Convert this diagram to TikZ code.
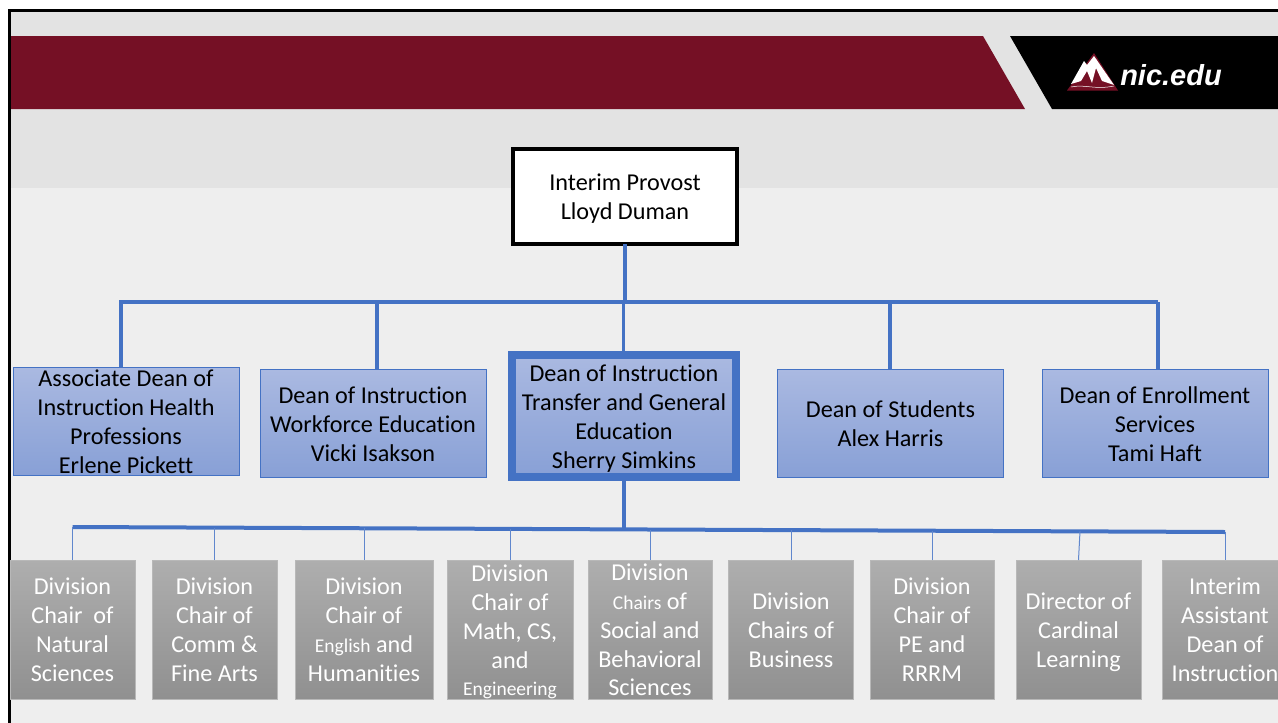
\documentclass[tikz,border=0pt]{standalone}
\usepackage{fontspec}
\setmainfont[Ligatures=CommonOff]{Carlito}
\newfontfamily\logofont{Liberation Sans}
\usepackage{tikz}
\usetikzlibrary{positioning}
\definecolor{maroon} {RGB}{117, 16, 37}
\definecolor{band}   {RGB}{227,227,227}
\definecolor{page}   {RGB}{238,238,238}
\definecolor{tree}   {RGB}{ 68,114,196}
\definecolor{deantop}{RGB}{170,185,225}
\definecolor{deanbot}{RGB}{136,160,214}
\definecolor{chairtop}{RGB}{174,174,174}
\definecolor{chairbot}{RGB}{144,144,144}
\newcommand{\smalltext}[1]{{\fontsize{19.5}{29}\selectfont #1}}
\newcommand{\ts}{\rule{0pt}{23.5pt}}
\newcommand{\botstrut}{\rule[-6pt]{0pt}{6pt}}
\tikzset{
  every node/.style={shape=rectangle,inner sep=0pt,outer sep=0pt,align=center,
    font=\fontsize{24.2}{29}\selectfont},
  boxtext/.style={inner ysep=-20pt,execute at end node=\botstrut},
  dean/.style={boxtext,draw=tree,line width=1pt,top color=deantop,bottom color=deanbot,
    minimum width=226,minimum height=108},
  chair/.style={boxtext,draw=black!28,line width=1pt,top color=chairtop,bottom color=chairbot,
    text=white,minimum height=139},
  trunk/.style={draw=tree,line width=4pt},
  drop/.style={draw=tree!85,line width=1pt}
}

\begin{document}
\begin{tikzpicture}[x=1pt,y=-1pt]

    \useasboundingbox (0,0) rectangle (1278,723);

    % backdrop and title bands
    \fill[page] (8,10) rectangle (1278,723);
    \fill[band] (8,10) rectangle (1278,188);
    \fill[maroon] (10,36) -- (983,36) -- (1025,109) -- (10,109) -- cycle;
    \fill[black] (1010,36) -- (1278,36) -- (1278,109) -- (1052,109) -- cycle;
    \draw[black,line width=3pt] (9,723) -- (9,10.5) -- (1278,10.5);

    % logo
    \fill[maroon] (1067,90.5) -- (1094,53) -- (1118,90.5) -- cycle;
    \fill[white] (1071,84) -- (1084,61) -- (1087,65) -- (1094,56) -- (1114,85) -- (1102,81)
        -- (1096,68) -- (1092,83) -- (1087,71) -- (1081,81) -- cycle;
    \draw[white,line width=0.5pt] (1071,87) .. controls (1085,84) and (1095,90) .. (1114,86);
    \node[text=white,font=\logofont\bfseries\itshape\fontsize{29}{29}\selectfont] (logo) at(1171,75) {nic.edu};

    % provost and deans
    \node[boxtext,draw=black,fill=white,line width=3.5pt,minimum width=224,minimum height=95] (provost) at(625,196.5) {\ts Interim Provost\\Lloyd Duman};

    \node[dean] (associate) at(126,421) {\ts Associate Dean of\\Instruction Health\\Professions\\Erlene Pickett};
    \node[dean] (workforce) at(373,423.5) {\ts Dean of Instruction\\Workforce Education\\Vicki Isakson};
    \node[dean,line width=8pt,minimum width=224,minimum height=122] (transfer) at(624,416) {\ts Dean of Instruction\\Transfer and General\\Education\\Sherry Simkins};
    \node[dean] (students) at(890.5,423.5) {\ts Dean of Students\\Alex Harris};
    \node[dean] (enrollment) at(1155,423.5) {\ts Dean of Enrollment\\Services\\Tami Haft};

    % chairs
    \node[chair,minimum width=125] (natural) at(72.5,629.5) {\ts Division\\Chair\ \ of\\Natural\\Sciences};
    \node[chair,minimum width=125] (finearts) at(214.5,629.5) {\ts Division\\Chair of\\Comm \&\\Fine Arts};
    \node[chair,minimum width=138] (english) at(364,629.5) {\ts Division\\Chair of\\\smalltext{English} and\\Humanities};
    \node[chair,minimum width=126] (math) at(510,629.5) {\ts Division\\Chair of\\Math, CS,\\and\\[-2pt]\smalltext{Engineering}};
    \node[chair,minimum width=124] (social) at(650,629.5) {\ts Division\\\smalltext{Chairs} of\\Social and\\Behavioral\\[-1pt]Sciences};
    \node[chair,minimum width=125] (business) at(791,629.5) {\ts Division\\Chairs of\\Business};
    \node[chair,minimum width=124] (perrrm) at(932,629.5) {\ts Division\\Chair of\\PE and\\RRRM};
    \node[chair,minimum width=125] (cardinal) at(1078.5,629.5) {\ts Director of\\Cardinal\\Learning};
    \node[chair,minimum width=126] (assistant) at(1225,629.5) {\ts Interim\\Assistant\\Dean of\\Instruction};

    % upper tree
    \coordinate (ua) at(121,302);
    \coordinate (ub) at(377,302);
    \coordinate (uc) at(623.5,302);
    \coordinate (ud) at(890,302);
    \coordinate (ue) at(1158,302);
    \draw[trunk] (ua) -- (ue);
    \draw[trunk] (provost) -- (provost |- ua);
    \draw[trunk] ([xshift=-2pt]ua) -- (ua) -- (ua |- associate.north);
    \draw[trunk] (ub) -- (ub |- workforce.north);
    \draw[trunk,line width=3pt] (uc) -- (uc |- transfer.north);
    \draw[trunk] (ud) -- (ud |- students.north);
    \draw[trunk] (ue) -- (ue |- enrollment.north);

    % lower tree
    \coordinate (la) at(72.5,527);
    \coordinate (lb) at(214.5,527.6);
    \coordinate (lc) at(364,528.3);
    \coordinate (ld) at(510,528.9);
    \coordinate (lm) at(623,529.4);
    \coordinate (le) at(650,529.5);
    \coordinate (lf) at(791,530.1);
    \coordinate (lg) at(932,530.7);
    \coordinate (lh) at(1080,531.4);
    \coordinate (li) at(1225,532);
    \draw[trunk] (la) -- (li);
    \draw[trunk] (transfer) -- (transfer |- lm);
    \draw[drop] (natural) -- (la);
    \draw[drop] (finearts) -- (lb);
    \draw[drop] (english) -- (lc);
    \draw[drop] (math) -- (ld);
    \draw[drop] (social) -- (le);
    \draw[drop] (business) -- (lf);
    \draw[drop] (perrrm) -- (lg);
    \draw[drop] (cardinal.north) -- (lh);
    \draw[drop] (assistant) -- (li);

\end{tikzpicture}
\end{document}
